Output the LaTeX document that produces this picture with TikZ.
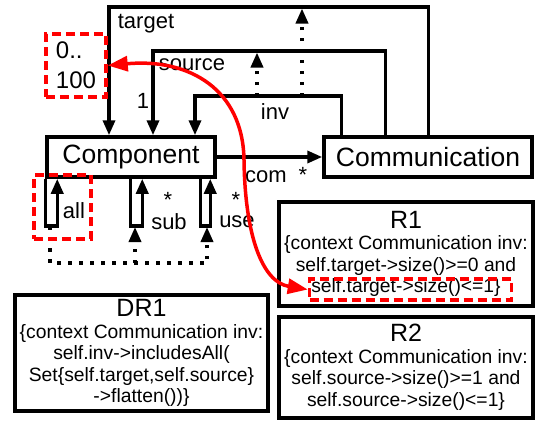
\documentclass[tikz,border=0pt]{standalone}
\usepackage{fontspec}
\setmainfont{Liberation Sans}
\usetikzlibrary{arrows.meta, positioning, calc}
\newcommand{\rulehead}[1]{{\fontsize{25}{27}\selectfont #1}}

\begin{document}
\begin{tikzpicture}[
    x=1pt, y=-1pt,
    classbox/.style={rectangle, draw, line width=3.5pt, minimum height=40pt,
                 font=\fontsize{26.5}{28}\selectfont, inner sep=0pt},
    rulebox/.style={rectangle, draw, line width=3.5pt, align=center,
                 font=\fontsize{19.3}{21.5}\selectfont, inner sep=0pt},
    lbl/.style={font=\fontsize{22}{24}\selectfont, inner sep=0pt},
    assoc/.style={line width=3.5pt, -{Triangle[length=15pt,width=12pt]}},
    dotarrow/.style={line width=3.5pt, dash pattern=on 3.5pt off 7.5pt,
                 -{Triangle[length=15pt,width=12pt]}},
    hlbox/.style={rectangle, draw=red, line width=3.5pt, dash pattern=on 9pt off 5pt},
    trace/.style={red, line width=3.5pt,
                 {Triangle[length=20pt,width=15pt]}-{Triangle[length=20pt,width=15pt]}},
  ]
    \useasboundingbox (0,0) rectangle (536,423);

    \node[classbox, minimum width=168pt] (comp) at (131,157) {Component};
    \node[classbox, minimum width=208pt] (commu) at (428,157) {Communication};

    \coordinate (ttop) at (109,7);
    \coordinate (stop) at (153,51);
    \coordinate (itop) at (195,96);
    \draw[assoc] ([xshift=106pt]commu.north west) |- (ttop) -- (ttop |- comp.north);
    \draw[assoc] ([xshift=63pt]commu.north west) |- (stop) -- (stop |- comp.north);
    \draw[assoc] ([xshift=19pt]commu.north west) |- (itop) -- (itop |- comp.north);
    \draw[assoc] (comp.east) -- (commu.west);

    \coordinate (d1) at (257,96);
    \coordinate (d2) at (302,96);
    \draw[dotarrow, shorten >=1.5pt] (d1) -- (d1 |- stop);
    \draw[dotarrow, shorten >=1.5pt] (d2) -- (d2 |- ttop);

    \node[lbl] (tgtlbl) at (146,24) {target};
    \node[lbl] (srclbl) at (192,65) {source};
    \node[lbl] (one) at (143,101) {1};
    \node[lbl] (invlbl) at (275,112) {inv};
    \node[lbl] (comlbl) at (266,177) {com};
    \node[lbl] (comstar) at (303,175) {*};

    \draw[assoc] (comp.south west) -- ++(0,47) -| ([xshift=12pt]comp.south west);
    \draw[assoc] ([xshift=85pt]comp.south west) -- ++(0,47) -| ([xshift=97pt]comp.south west);
    \draw[assoc] ([xshift=155pt]comp.south west) -- ++(0,47) -| ([xshift=165pt]comp.south west);

    \coordinate (allend) at (50,226);
    \coordinate (subend) at (135,227);
    \coordinate (useend) at (207,227);
    \coordinate (dbot) at (135,263);
    \draw[dotarrow] (allend) |- (dbot) -| (useend);
    \draw[dotarrow] (dbot) -- (subend);

    \node[lbl] (alllbl) at (74,211) {all};
    \node[lbl] (substar) at (168,200) {*};
    \node[lbl] (sublbl) at (169,222) {sub};
    \node[lbl] (usestar) at (236,200) {*};
    \node[lbl] (uselbl) at (237,222) {use};

    \node[hlbox, minimum width=57pt, minimum height=64pt] (allhl) at (62.5,207) {};
    \node[hlbox, lbl, align=left, font=\fontsize{24}{30}\selectfont,
          minimum width=60pt, minimum height=63pt] (mult) at (76,65.5) {0..\\100};

    \node[rulebox, minimum width=254pt, minimum height=104pt] (r1) at (406,254)
      {\rulehead{R1}\\\{context Communication inv:\\self.target->size()>=0 and\\self.target->size()<=1\}};
    \node[rulebox, minimum width=254pt, minimum height=101pt] (r2) at (406,367.5)
      {\rulehead{R2}\\\{context Communication inv:\\self.source->size()>=1 and\\self.source->size()<=1\}};
    \node[rulebox, minimum width=253pt, minimum height=116pt] (dr1) at (141.5,353)
      {\rulehead{DR1}\\\{context Communication inv:\\self.inv->includesAll(\\Set\{self.target,self.source\}\\->flatten())\}};
    \node[hlbox, minimum width=202pt, minimum height=21pt] (r1hl) at (410.5,289.5) {};

    \draw[trace] (mult.east) .. controls (190,58) and (243,90) .. (244,160)
      .. controls (245,235) and (262,282) .. (r1hl.west);
  \end{tikzpicture}
\end{document}
